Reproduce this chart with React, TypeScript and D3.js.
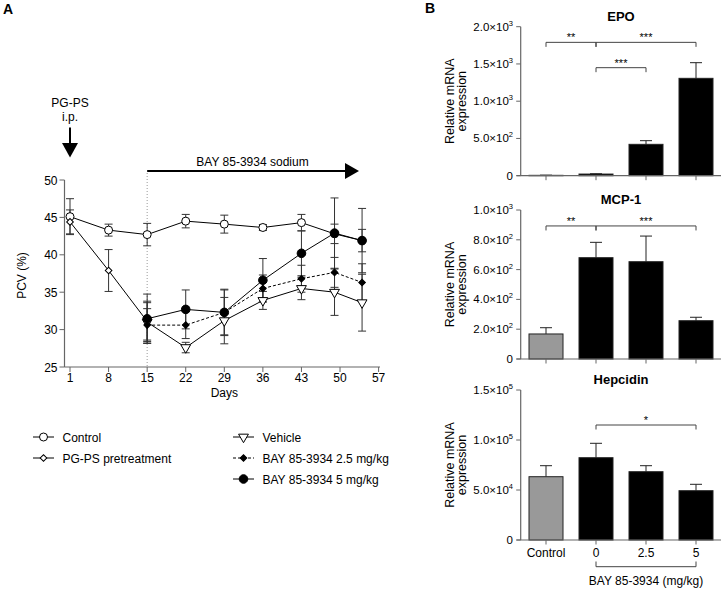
import React from 'react';
import * as d3 from 'd3';

// ---- panel A data (PCV %) ----
const days = [1, 8, 15, 22, 29, 36, 43, 49, 54];
const controlMean = [45.1, 43.3, 42.7, 44.5, 44.1, 43.65, 44.3, 42.8, 41.9];
const controlErr = [2.4, 0.8, 1.5, 0.9, 1.2, 0.4, 1.1, 1.3, 1.5];
const pretreatDays = [1, 8, 15];
const pretreatMean = [44.4, 37.9, 31.1];
const pretreatErr = [1.6, 2.8, 2.5];
const treatDays = [15, 22, 29, 36, 43, 49, 54];
const vehicleMean = [31.0, 27.6, 31.2, 33.9, 35.5, 35.0, 33.6];
const vehicleErr = [2.8, 0.7, 3.1, 1.2, 1.5, 3.1, 3.8];
const bay25Mean = [30.6, 30.6, 32.3, 35.5, 36.8, 37.65, 36.3];
const bay25Err = [2.2, 1.8, 3.0, 1.8, 1.8, 2.0, 2.5];
const bay5Mean = [31.45, 32.7, 32.3, 36.6, 40.2, 42.9, 41.9];
const bay5Err = [3.3, 2.6, 3.1, 2.9, 3.0, 4.7, 4.3];
const dayTicks = [1, 8, 15, 22, 29, 36, 43, 50, 57];
const pcvTicks = [25, 30, 35, 40, 45, 50];

// ---- panel B data (relative mRNA expression) ----
const groups = ['Control', '0', '2.5', '5'];
const epoMean = [5, 22, 421, 1307];
const epoErr = [2, 4, 49, 210];
const epoTicks = [0, 500, 1000, 1500, 2000];
const mcpMean = [168, 680, 653, 257];
const mcpErr = [42, 103, 172, 23];
const mcpTicks = [0, 200, 400, 600, 800, 1000];
const hepMean = [63300, 82300, 68300, 49300];
const hepErr = [11000, 14400, 6000, 6400];
const hepTicks = [0, 50000, 100000, 150000];

const FONT = '"Liberation Sans", Arial, Helvetica, sans-serif';
const AXIS = '#666';

const sym = (type: d3.SymbolType, size: number) => d3.symbol().type(type).size(size)() as string;

type Series = {
  name: string; days: number[]; mean: number[]; err: number[];
  shape: string; fill: string; dash?: string;
};

const series: Series[] = [
  { name: 'Control', days, mean: controlMean, err: controlErr, shape: 'circle', fill: '#fff' },
  { name: 'PG-PS pretreatment', days: pretreatDays, mean: pretreatMean, err: pretreatErr, shape: 'diamond', fill: '#fff' },
  { name: 'Vehicle', days: treatDays, mean: vehicleMean, err: vehicleErr, shape: 'triangle', fill: '#fff' },
  { name: 'BAY 85-3934 2.5 mg/kg', days: treatDays, mean: bay25Mean, err: bay25Err, shape: 'diamond', fill: '#000', dash: '3,2' },
  { name: 'BAY 85-3934 5 mg/kg', days: treatDays, mean: bay5Mean, err: bay5Err, shape: 'bigcircle', fill: '#000' },
];

function Marker({ shape, fill, cx, cy }: { shape: string; fill: string; cx: number; cy: number }) {
  if (shape === 'circle') return <circle cx={cx} cy={cy} r={4} fill={fill} stroke="#000" strokeWidth={1} />;
  if (shape === 'bigcircle') return <circle cx={cx} cy={cy} r={4.3} fill={fill} stroke="#000" strokeWidth={1} />;
  if (shape === 'diamond')
    return <path d={sym(d3.symbolSquare, 22)} transform={`translate(${cx},${cy}) rotate(45)`} fill={fill} stroke="#000" strokeWidth={1} />;
  return <path d={sym(d3.symbolTriangle, 42)} transform={`translate(${cx},${cy}) rotate(180)`} fill={fill} stroke="#000" strokeWidth={1} />;
}

function sciLabel(v: number) {
  if (v === 0) return { mant: '0', exp: '' };
  const e = Math.floor(Math.log10(v) + 1e-9);
  return { mant: (v / Math.pow(10, e)).toFixed(1) + '×10', exp: String(e) };
}

type PanelProps = {
  title: string; mean: number[]; err: number[]; ticks: number[];
  top: number; bottom: number;
  brackets: { from: number; to: number; at: number; label: string }[];
  showX?: boolean;
};

function BarPanel({ title, mean, err, ticks, top, bottom, brackets, showX }: PanelProps) {
  const x = d3.scaleBand<string>().domain(groups).range([521, 721]).paddingInner(0.32).paddingOuter(0.16);
  const y = d3.scaleLinear().domain([0, ticks[ticks.length - 1]]).range([bottom, top]);
  const axX = 520.7;
  const cx = (i: number) => (x(groups[i]) as number) + x.bandwidth() / 2;
  const midY = (top + bottom) / 2;
  return (
    <g>
      <text x={621} y={top - 6} textAnchor="middle" fontSize={13} fontWeight="bold">{title}</text>
      <g transform={`translate(454,${midY}) rotate(-90)`}>
        <text textAnchor="middle" fontSize={12.5}>Relative mRNA</text>
      </g>
      <g transform={`translate(466,${midY}) rotate(-90)`}>
        <text textAnchor="middle" fontSize={12.5}>expression</text>
      </g>
      {groups.map((g, i) => (
        <g key={g}>
          <line x1={cx(i)} x2={cx(i)} y1={y(mean[i])} y2={y(mean[i] + err[i])} stroke="#222" strokeWidth={1} />
          <line x1={cx(i) - 6} x2={cx(i) + 6} y1={y(mean[i] + err[i])} y2={y(mean[i] + err[i])} stroke="#222" strokeWidth={1} />
          <rect x={x(g)} y={y(mean[i])} width={x.bandwidth()} height={bottom - y(mean[i])}
            fill={i === 0 ? '#999' : '#000'} stroke="#222" strokeWidth={1} />
        </g>
      ))}
      <line x1={axX} x2={axX} y1={top} y2={bottom} stroke={AXIS} strokeWidth={1.2} />
      <line x1={516.5} x2={721} y1={bottom} y2={bottom} stroke={AXIS} strokeWidth={1.2} />
      {ticks.map(t => {
        const l = sciLabel(t);
        return (
          <g key={t}>
            <line x1={axX - 4.5} x2={axX} y1={y(t)} y2={y(t)} stroke={AXIS} strokeWidth={1} />
            <text x={513} y={y(t) + 4} textAnchor="end" fontSize={11.5}>
              <tspan>{l.mant}</tspan>
              {l.exp && <tspan dy={-5} fontSize={7.5}>{l.exp}</tspan>}
            </text>
          </g>
        );
      })}
      {groups.map((g, i) => (
        <line key={g} x1={cx(i)} x2={cx(i)} y1={bottom} y2={bottom + 4.5} stroke={AXIS} strokeWidth={1} />
      ))}
      {brackets.map((b, k) => {
        const by = y(b.at);
        return (
          <g key={k} stroke="#444" strokeWidth={1} fill="none">
            <path d={`M${cx(b.from)},${by + 4.5}V${by}H${cx(b.to)}V${by + 4.5}`} />
            <text x={(cx(b.from) + cx(b.to)) / 2} y={by - 1} textAnchor="middle" fontSize={11} stroke="none" fill="#000">{b.label}</text>
          </g>
        );
      })}
      {showX && (
        <g>
          {groups.map((g, i) => (
            <text key={g} x={cx(i)} y={bottom + 17} textAnchor="middle" fontSize={12}>{g}</text>
          ))}
          <path d={`M${cx(1)},${bottom + 21.5}V${bottom + 26.7}H${cx(3)}V${bottom + 21.5}`} stroke="#444" fill="none" strokeWidth={1} />
          <text x={(cx(1) + cx(3)) / 2} y={bottom + 45} textAnchor="middle" fontSize={12}>BAY 85-3934 (mg/kg)</text>
        </g>
      )}
    </g>
  );
}

export default function App() {
  const x = d3.scaleLinear().domain([0, 57]).range([64.5, 378.6]);
  const y = d3.scaleLinear().domain([25, 50]).range([367, 180]);
  const x0 = x(0);
  const y0 = y(25);

  return (
    <svg width={723} height={590} style={{ position: 'absolute', left: 0, top: 0 }} fontFamily={FONT}>
      <rect width={723} height={590} fill="#fff" />
      <text x={3} y={14} fontSize={14} fontWeight="bold">A</text>
      <text x={425} y={13} fontSize={14} fontWeight="bold">B</text>

      {/* annotations */}
      <text x={x(1)} y={107} textAnchor="middle" fontSize={12}>PG-PS</text>
      <text x={x(1)} y={121} textAnchor="middle" fontSize={12}>i.p.</text>
      <line x1={x(1)} x2={x(1)} y1={127.5} y2={144} stroke="#000" strokeWidth={2} />
      <path d={`M${x(1) - 8},143L${x(1) + 8},143L${x(1)},157.5Z`} fill="#000" />
      <text x={252.5} y={166} textAnchor="middle" fontSize={12}>BAY 85-3934 sodium</text>
      <line x1={x(15)} x2={346} y1={171} y2={171} stroke="#000" strokeWidth={2} />
      <path d="M345,163L359,171L345,179Z" fill="#000" />
      <line x1={x(15)} x2={x(15)} y1={173} y2={y0} stroke="#999" strokeWidth={1} strokeDasharray="1,2" />

      {/* axes */}
      <line x1={x0} x2={x0} y1={y(50)} y2={y0} stroke={AXIS} strokeWidth={1.2} />
      <line x1={x0} x2={380} y1={y0} y2={y0} stroke={AXIS} strokeWidth={1.2} />
      {pcvTicks.map(t => (
        <g key={t}>
          <line x1={x0 - 5} x2={x0} y1={y(t)} y2={y(t)} stroke={AXIS} />
          <text x={57.5} y={y(t) + 4.5} textAnchor="end" fontSize={12}>{t}</text>
        </g>
      ))}
      {dayTicks.map(t => (
        <g key={t}>
          <line x1={x(t)} x2={x(t)} y1={y0} y2={y0 + 5} stroke={AXIS} />
          <text x={x(t)} y={382} textAnchor="middle" fontSize={12}>{t}</text>
        </g>
      ))}
      <text x={x(29)} y={397} textAnchor="middle" fontSize={12}>Days</text>
      <g transform={`translate(26,${(y(50) + y0) / 2 + 2}) rotate(-90)`}>
        <text textAnchor="middle" fontSize={12}>PCV (%)</text>
      </g>

      {/* lines */}
      {series.map(s => {
        const line = d3.line<number>().x((_, i) => x(s.days[i])).y(d => y(d));
        return <path key={s.name} d={line(s.mean) as string} fill="none" stroke="#000" strokeWidth={1} strokeDasharray={s.dash} />;
      })}
      {/* error bars */}
      {series.map(s => (
        <g key={s.name} stroke="#333" strokeWidth={1}>
          {s.mean.map((m, i) => {
            const cx = x(s.days[i]);
            return (
              <g key={i}>
                <line x1={cx} x2={cx} y1={y(m - s.err[i])} y2={y(m + s.err[i])} />
                <line x1={cx - 4} x2={cx + 4} y1={y(m + s.err[i])} y2={y(m + s.err[i])} />
                <line x1={cx - 4} x2={cx + 4} y1={y(m - s.err[i])} y2={y(m - s.err[i])} />
              </g>
            );
          })}
        </g>
      ))}
      {/* markers */}
      {series.map(s => (
        <g key={s.name}>
          {s.mean.map((m, i) => <Marker key={i} shape={s.shape} fill={s.fill} cx={x(s.days[i])} cy={y(m)} />)}
        </g>
      ))}

      {/* legend */}
      {series.map((s, k) => {
        const col = k < 2 ? 0 : 1;
        const row = k < 2 ? k : k - 2;
        const lx = col === 0 ? 33 : 233;
        const ly = 437 + row * 21;
        return (
          <g key={s.name}>
            <line x1={lx} x2={lx + 21} y1={ly} y2={ly} stroke="#000" strokeWidth={1} strokeDasharray={s.dash} />
            <Marker shape={s.shape} fill={s.fill} cx={lx + 10.5} cy={ly} />
            <text x={lx + 29.5} y={ly + 4.5} fontSize={12}>{s.name}</text>
          </g>
        );
      })}

      {/* panel B */}
      <BarPanel title="EPO" mean={epoMean} err={epoErr} ticks={epoTicks} top={26.7} bottom={175.7}
        brackets={[
          { from: 0, to: 1, at: 1790, label: '**' },
          { from: 1, to: 3, at: 1790, label: '***' },
          { from: 1, to: 2, at: 1450, label: '***' },
        ]} />
      <BarPanel title="MCP-1" mean={mcpMean} err={mcpErr} ticks={mcpTicks} top={210} bottom={359}
        brackets={[
          { from: 0, to: 1, at: 893, label: '**' },
          { from: 1, to: 3, at: 893, label: '***' },
        ]} />
      <BarPanel title="Hepcidin" mean={hepMean} err={hepErr} ticks={hepTicks} top={390} bottom={540}
        brackets={[{ from: 1, to: 3, at: 115000, label: '*' }]} showX />
    </svg>
  );
}
